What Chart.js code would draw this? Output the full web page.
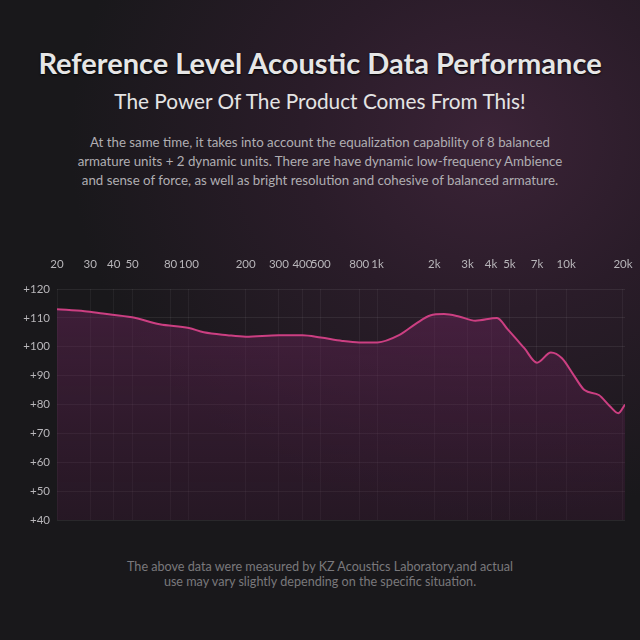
<!DOCTYPE html>
<html>
<head>
<meta charset="utf-8">
<script src="https://cdn.jsdelivr.net/npm/chart.js@4"></script>
<style>
  html, body { margin: 0; padding: 0; }
  body {
    width: 640px; height: 640px; overflow: hidden; position: relative;
    background: radial-gradient(ellipse 420px 380px at 490px 140px, #3b2337 0%, #2a1c29 45%, #19181b 100%);
    background-color: #19181b;
    font-family: Lato, "Noto Sans", sans-serif;
  }
  .title {
    position: absolute; left: 0; width: 640px; top: 45px; text-align: center;
    font-size: 29px; font-weight: bold;
    color: #e6e6e6; text-shadow: 0 1px 2px #000;
  }
  .sub {
    position: absolute; left: 0; width: 640px; top: 88px; text-align: center;
    font-size: 20.8px; color: #e4e4e4;
  }
  .para {
    position: absolute; left: 0; width: 640px; top: 133px; text-align: center;
    font-size: 13.3px; line-height: 19px; color: #b0aeb2;
  }
  .foot {
    position: absolute; left: 0; width: 640px; top: 559px; text-align: center;
    font-size: 12.6px; line-height: 15px; color: #7a787c;
  }
  #wrap { position: absolute; left: 0; top: 250px; width: 640px; height: 290px; }
</style>
</head>
<body>
<div class="title">Reference Level Acoustic Data Performance</div>
<div class="sub">The Power Of The Product Comes From This!</div>
<div class="para">At the same time, it takes into account the equalization capability of 8 balanced<br>armature units + 2 dynamic units. There are have dynamic low-frequency Ambience<br>and sense of force, as well as bright resolution and cohesive of balanced armature.</div>
<div id="wrap"><canvas id="fr"></canvas></div>
<div class="foot">The above data were measured by KZ Acoustics Laboratory,and actual<br>use may vary slightly depending on the specific situation.</div>
<script>
// frequency response (Hz / dB)
const freqs = [20, 28, 35, 50, 70, 100, 120, 160, 200, 300, 400, 500, 650, 800, 1000, 1300, 1600, 1900, 2250, 2700, 3300, 4300, 4900, 6000, 7000, 8300, 9500, 11000, 12500, 14900, 17000, 18900, 20500];
const levels = [113, 112.3, 111.5, 110.2, 107.8, 106.5, 105, 104, 103.5, 104, 104, 103.2, 102, 101.5, 101.5, 104, 108, 110.8, 111.3, 110.5, 109, 110, 106, 99.5, 94.5, 98, 96, 90, 85, 83.3, 79.5, 77, 80];

const xTicks = [20, 30, 40, 50, 80, 100, 200, 300, 400, 500, 800, 1000, 2000, 3000, 4000, 5000, 7000, 10000, 20000];
const yTicks = [40, 50, 60, 70, 80, 90, 100, 110, 120];

const ctx = document.getElementById("fr").getContext("2d");

new Chart(ctx, {
  type: "line",
  data: {
    datasets: [{
      data: freqs.map((f, i) => ({ x: f, y: levels[i] })),
      borderColor: "#cc3f82",
      borderWidth: 2,
      pointRadius: 0,
      tension: 0.4,
      cubicInterpolationMode: "monotone",
      fill: "start",
      backgroundColor: (c) => {
        const a = c.chart.chartArea;
        if (!a) return "rgba(80,30,70,0.6)";
        const g = c.chart.ctx.createLinearGradient(0, a.top, 0, a.bottom);
        g.addColorStop(0, "rgba(105,38,90,0.5)");
        g.addColorStop(1, "rgba(70,25,60,0.3)");
        return g;
      },
    }],
  },
  options: {
    responsive: true,
    maintainAspectRatio: false,
    animation: false,
    layout: { padding: { right: 15, bottom: 20, left: 0, top: 0 } },
    plugins: { legend: { display: false }, tooltip: { enabled: false } },
    scales: {
      x: {
        type: "logarithmic",
        position: "top",
        min: 20,
        max: 20500,
        afterBuildTicks: (s) => { s.ticks = xTicks.map(v => ({ value: v })); },
        afterFit: (s) => { s.height = 39; s.paddingRight = 0; s.paddingLeft = 0; },
        ticks: {
          autoSkip: false,
          maxRotation: 0,
          padding: 18,
          color: "#b8b6ba",
          font: { size: 11.5, family: "Lato" },
          callback: (v) => v >= 1000 ? (v / 1000) + "k" : v,
        },
        grid: { color: "rgba(255,255,255,0.05)", drawTicks: false },
        border: { display: false },
      },
      y: {
        min: 40,
        max: 120,
        afterBuildTicks: (s) => { s.ticks = yTicks.map(v => ({ value: v })); },
        afterFit: (s) => { s.width = 57; },
        ticks: {
          color: "#b8b6ba",
          font: { size: 11.5, family: "Lato" },
          padding: 7,
          callback: (v) => "+" + v,
        },
        grid: { color: "rgba(255,255,255,0.07)", drawTicks: false },
        border: { display: false },
      },
    },
  },
});
</script>
</body>
</html>
